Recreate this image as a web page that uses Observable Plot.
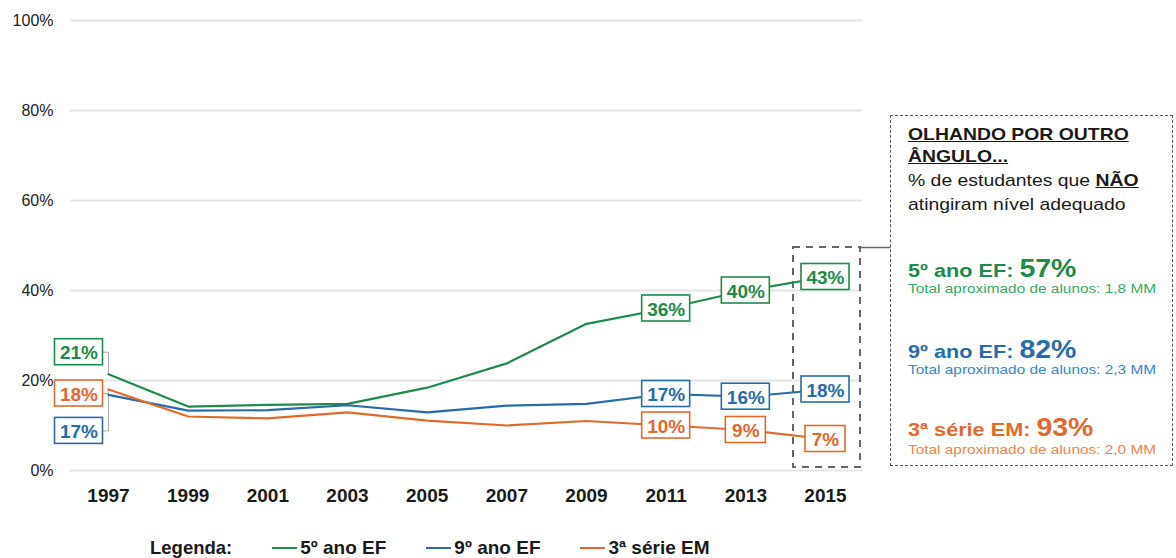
<!DOCTYPE html>
<html>
<head>
<meta charset="utf-8">
<script src="https://cdn.jsdelivr.net/npm/d3@7"></script>
<script src="https://cdn.jsdelivr.net/npm/@observablehq/plot@0.6"></script>
<style>
  html, body { margin: 0; padding: 0; background: #fff; }
  body { font-family: "Liberation Sans", Arial, sans-serif; }
  #wrap { position: relative; width: 1176px; height: 558px; overflow: hidden; }
  #chart svg { display: block; }
  #legend { position: absolute; left: 150px; top: 538px; display: flex; align-items: center; font-weight: bold; font-size: 19px; color: #1a1a1a; line-height: 19px; }
  #legend .lab { font-size: 18.5px; }
  #legend .item { display: flex; align-items: center; margin-left: 40px; }
  #legend .sw { width: 25px; height: 2px; margin-right: 3px; }
  #callout { position: absolute; left: 890px; top: 115px; width: 283px; height: 351px; box-sizing: border-box; border: 1.5px dashed #555; }
  #callout .ln { position: absolute; left: 17px; white-space: nowrap; transform: scaleX(1.14); transform-origin: left center; }
  .hd { font-size: 17px; line-height: 17px; font-weight: bold; color: #1a1a1a; text-decoration: underline; }
  .tx { font-size: 17px; line-height: 17px; color: #1a1a1a; }
  .big { font-size: 19px; line-height: 24px; font-weight: bold; }
  .big span { font-size: 25px; }
  .tot { font-size: 13.5px; line-height: 14px; }
</style>
</head>
<body>
<div id="wrap">
  <div id="chart"></div>
  <div id="legend"></div>
  <div id="callout"></div>
</div>
<script>
// ---------- data ----------
const years = [1997, 1999, 2001, 2003, 2005, 2007, 2009, 2011, 2013, 2015];
const seriesNames = ["5º ano EF", "9º ano EF", "3ª série EM"];
const ef5 = [21.4, 14.2, 14.6, 14.8, 18.4, 23.8, 32.6, 36, 40, 43];
const ef9 = [16.8, 13.3, 13.4, 14.5, 12.9, 14.4, 14.8, 17, 16.4, 18];
const em3 = [18, 12.0, 11.6, 12.9, 11.1, 10.0, 11.0, 10, 9, 7];
const yTicks = [0, 20, 40, 60, 80, 100];
const labelYears = [1997, 2011, 2013, 2015];
const calloutPct = [57, 82, 93];
const calloutTotals = ["1,8", "2,3", "2,0"];

// ---------- styles / layout ----------
const colors = { "5º ano EF": "#1f8a4c", "9º ano EF": "#2a6ba6", "3ª série EM": "#e0692f" };
const lightColors = { "5º ano EF": "#3aa866", "9º ano EF": "#3a86c4", "3ª série EM": "#e8864f" };
const W = 1176, H = 520;
const mL = 108, mR = 351, mT = 20, mB = 50;
const pxPerYear = (W - mL - mR) / (years[years.length - 1] - years[0]);
const pxPerPct = (H - mT - mB) / 100;
const yrs = px => px / pxPerYear;
const pct = px => px / pxPerPct;
const startDy = { "5º ano EF": -22, "9º ano EF": 36, "3ª série EM": 4 };

const valuesBySeries = [ef5, ef9, em3];
const data = [];
seriesNames.forEach((s, k) => years.forEach((yr, i) => data.push({ year: yr, s, v: valuesBySeries[k][i] })));
const labeled = data.filter(d => labelYears.includes(d.year)).map(d => {
  const text = Math.round(d.v) + "%";
  const first = d.year === years[0];
  const cx = first ? d.year - yrs(29.5) : d.year;
  const cy = first ? d.v - pct(startDy[d.s]) : d.v;
  const hw = text.length === 3 ? 24 : 20;
  return { ...d, text, cx, cy, hw, first };
});
const startLinks = labeled.filter(d => d.first).flatMap(d => [
  { s: d.s, x: d.cx + yrs(d.hw), y: d.cy },
  { s: d.s, x: d.year, y: d.cy },
  { s: d.s, x: d.year, y: d.v }
]);
const lastYear = years[years.length - 1];
const hi = { x1: lastYear - yrs(32), x2: lastYear + yrs(35), y1: pct(3), y2: pct(223), xc: lastYear + yrs(65) };

const chart = Plot.plot({
  width: W, height: H,
  marginLeft: mL, marginRight: mR, marginTop: mT, marginBottom: mB,
  style: { fontFamily: "'Liberation Sans', Arial, sans-serif", background: "#fff", overflow: "visible" },
  x: { domain: [years[0], lastYear] },
  y: { domain: [0, 100] },
  marks: [
    Plot.ruleY(yTicks, { x1: years[0] - yrs(38), x2: lastYear + yrs(37), stroke: "#e6e6e6", strokeWidth: 2 }),
    Plot.axisY({ ticks: yTicks, tickFormat: d => d + "%", tickSize: 0, tickPadding: 55, fontSize: 16, fill: "#222" }),
    Plot.axisX({ ticks: years, tickFormat: d => String(d), tickSize: 0, tickPadding: 18, fontSize: 19, fontWeight: "bold", fill: "#1a1a1a" }),
    Plot.rect([hi], { x1: "x1", x2: "x2", y1: "y1", y2: "y2", fill: "none", stroke: "#666", strokeWidth: 2, strokeDasharray: "7,6" }),
    Plot.link([hi], { x1: "x2", x2: "xc", y1: "y2", y2: "y2", stroke: "#666", strokeWidth: 1.5 }),
    Plot.line(startLinks, { x: "x", y: "y", z: "s", stroke: "#aaa", strokeWidth: 1 }),
    Plot.line(data, { x: "year", y: "v", z: "s", stroke: d => colors[d.s], strokeWidth: 2.2, curve: "linear" }),
    Plot.rect(labeled, { x1: d => d.cx - yrs(d.hw), x2: d => d.cx + yrs(d.hw), y1: d => d.cy - pct(13), y2: d => d.cy + pct(13), fill: "#fff", stroke: d => colors[d.s], strokeWidth: 1.6 }),
    Plot.text(labeled, { x: "cx", y: "cy", text: "text", fill: d => colors[d.s], fontSize: 19, fontWeight: "bold", textAnchor: "middle", lineAnchor: "middle", dy: 1 })
  ]
});
document.getElementById("chart").appendChild(chart);

// ---------- legend ----------
const legend = document.getElementById("legend");
const lab = document.createElement("span");
lab.className = "lab";
lab.textContent = "Legenda:";
legend.appendChild(lab);
seriesNames.forEach(s => {
  const it = document.createElement("span");
  it.className = "item";
  const sw = document.createElement("span");
  sw.className = "sw";
  sw.style.background = colors[s];
  it.appendChild(sw);
  const t = document.createElement("span");
  t.textContent = s;
  it.appendChild(t);
  legend.appendChild(it);
});

// ---------- callout ----------
const callout = document.getElementById("callout");
const boxTop = 115;
function addLine(html, cls, baseline, size, color) {
  const d = document.createElement("div");
  d.className = "ln " + cls;
  d.innerHTML = html;
  d.style.top = (baseline - boxTop - 0.846 * size) + "px";
  if (color) d.style.color = color;
  callout.appendChild(d);
}
addLine("OLHANDO POR OUTRO", "hd", 139, 17);
addLine("ÂNGULO...", "hd", 161, 17);
addLine('% de estudantes que <b style="text-decoration:underline">NÃO</b>', "tx", 185, 17);
addLine("atingiram nível adequado", "tx", 209, 17);
const bigBase = [273, 354, 432];
const totBase = [293, 374, 454];
seriesNames.forEach((s, k) => {
  addLine(s + ': <span>' + calloutPct[k] + '%</span>', "big", bigBase[k] + 2.5, 24, colors[s]);
  addLine("Total aproximado de alunos: " + calloutTotals[k] + " MM", "tot", totBase[k], 14, lightColors[s]);
});
</script>
</body>
</html>
